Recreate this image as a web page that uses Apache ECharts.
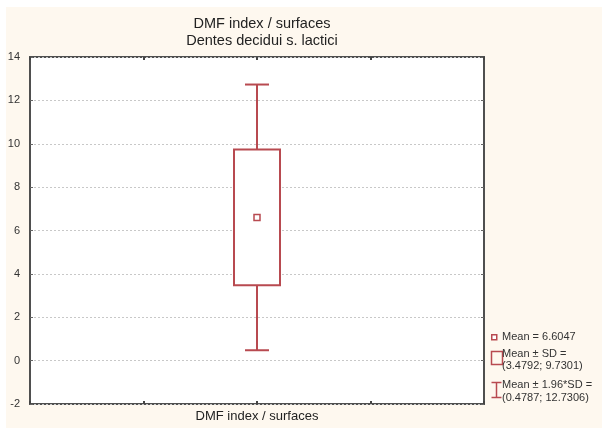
<!DOCTYPE html>
<html>
<head>
<meta charset="utf-8">
<script src="https://cdn.jsdelivr.net/npm/echarts@6/dist/echarts.min.js"></script>
<style>
  html, body { margin: 0; padding: 0; background: #ffffff; }
  #wrap { position: relative; width: 602px; height: 428px; }
  #paper { position: absolute; left: 6px; top: 7px; width: 596px; height: 421px; background: #fef8ef; }
  #chart { position: absolute; left: 0; top: 0; width: 602px; height: 428px; }
</style>
</head>
<body>
<div id="wrap">
  <div id="paper"></div>
  <div id="chart"></div>
</div>
<script>
// data
var categories = ['DMF index / surfaces']
var categoryPos = [2]
var meanValues = [6.6047]
var sdLow = [3.4792]
var sdHigh = [9.7301]
var ciLow = [0.4787]
var ciHigh = [12.7306]
var yMin = -2
var yMax = 14
var yStep = 2

var boxColor = '#b84a50'
var textColor = '#333333'

var seriesData = []
for (var i = 0; i < categories.length; i++) {
  seriesData.push([categoryPos[i], ciLow[i], sdLow[i], meanValues[i], sdHigh[i], ciHigh[i]])
}

function renderBox (params, api) {
  var x = api.value(0)
  var lo = api.coord([x, api.value(1)])
  var q1 = api.coord([x, api.value(2)])
  var mean = api.coord([x, api.value(3)])
  var q3 = api.coord([x, api.value(4)])
  var hi = api.coord([x, api.value(5)])
  var boxW = 46
  var capW = 24
  var sq = 6
  var st = { stroke: boxColor, lineWidth: 2, fill: null }
  return {
    type: 'group',
    children: [
      { type: 'line', shape: { x1: hi[0], y1: hi[1], x2: q3[0], y2: q3[1] }, style: st },
      { type: 'line', shape: { x1: q1[0], y1: q1[1], x2: lo[0], y2: lo[1] }, style: st },
      { type: 'line', shape: { x1: hi[0] - capW / 2, y1: hi[1], x2: hi[0] + capW / 2, y2: hi[1] }, style: st },
      { type: 'line', shape: { x1: lo[0] - capW / 2, y1: lo[1], x2: lo[0] + capW / 2, y2: lo[1] }, style: st },
      { type: 'rect', shape: { x: q3[0] - boxW / 2, y: q3[1], width: boxW, height: q1[1] - q3[1] }, style: { stroke: boxColor, lineWidth: 2, fill: '#ffffff' } },
      { type: 'rect', shape: { x: mean[0] - sq / 2, y: mean[1] - sq / 2, width: sq, height: sq }, style: { stroke: boxColor, lineWidth: 1.5, fill: '#ffffff' } }
    ]
  }
}

var legendFont = '11px "Liberation Sans", Arial, sans-serif'
function legendText (x, y, text) {
  return { type: 'text', left: x, top: y, style: { text: text, font: legendFont, fill: textColor } }
}

var chart = echarts.init(document.getElementById('chart'), null, { renderer: 'canvas' })
var options = {
  backgroundColor: 'transparent',
  animation: false,
  title: {
    text: 'DMF index / surfaces\nDentes decidui s. lactici',
    left: 257,
    textAlign: 'center',
    top: 10,
    textStyle: {
      color: '#222222',
      fontSize: 14.5,
      fontWeight: 'normal',
      fontFamily: '"Liberation Sans", Arial, sans-serif',
      lineHeight: 17
    }
  },
  grid: {
    left: 30,
    right: 118,
    top: 57,
    bottom: 24,
    outerBoundsMode: 'none',
    containLabel: false,
    show: true,
    backgroundColor: '#ffffff',
    borderColor: '#4f4f4f',
    borderWidth: 2
  },
  xAxis: [{
    type: 'value',
    min: 0,
    max: 4,
    interval: 1,
    position: 'bottom',
    name: categories[0],
    nameLocation: 'middle',
    nameGap: 6,
    nameTextStyle: { color: '#222222', fontSize: 13, fontFamily: '"Liberation Sans", Arial, sans-serif' },
    axisLine: { show: false, onZero: false },
    axisTick: { show: true, inside: true, length: 3, lineStyle: { color: '#444444', width: 2 } },
    axisLabel: { show: false },
    splitLine: { show: false }
  }, {
    type: 'value',
    min: 0,
    max: 4,
    interval: 1,
    position: 'top',
    axisLine: { show: false, onZero: false },
    axisTick: { show: true, inside: true, length: 3, lineStyle: { color: '#444444', width: 2 } },
    axisLabel: { show: false },
    splitLine: { show: false }
  }],
  yAxis: [{
    type: 'value',
    min: yMin,
    max: yMax,
    interval: yStep,
    axisLine: { show: false, onZero: false },
    axisTick: { show: true, inside: true, length: 3, lineStyle: { color: '#666666' } },
    axisLabel: {
      color: textColor,
      fontSize: 11,
      fontFamily: '"Liberation Sans", Arial, sans-serif',
      margin: 10
    },
    splitLine: {
      show: true,
      lineStyle: { color: '#c8c8c8', type: [2, 2], width: 1 }
    }
  }, {
    type: 'value',
    min: yMin,
    max: yMax,
    interval: yStep,
    position: 'right',
    axisLine: { show: false, onZero: false },
    axisTick: { show: true, inside: true, length: 3, lineStyle: { color: '#666666' } },
    axisLabel: { show: false },
    splitLine: { show: false }
  }],
  series: [{
    name: 'Mean ± SD',
    type: 'custom',
    xAxisIndex: 0,
    yAxisIndex: 0,
    renderItem: renderBox,
    encode: { x: 0, y: [1, 2, 3, 4, 5] },
    data: seriesData,
    z: 5
  }],
  graphic: [
    { type: 'rect', left: 491, top: 334, shape: { width: 5, height: 5 }, style: { stroke: boxColor, lineWidth: 1.5, fill: '#ffffff' } },
    legendText(502, 331, 'Mean = ' + meanValues[0]),
    { type: 'rect', left: 489, top: 349, shape: { width: 11, height: 13 }, style: { stroke: boxColor, lineWidth: 1.5, fill: 'none' } },
    legendText(502, 348, 'Mean ± SD ='),
    legendText(502, 360, '(' + sdLow[0] + '; ' + sdHigh[0] + ')'),
    {
      type: 'group',
      left: 489,
      top: 380,
      children: [
        { type: 'line', shape: { x1: 0, y1: 0, x2: 10, y2: 0 }, style: { stroke: boxColor, lineWidth: 1.5 } },
        { type: 'line', shape: { x1: 5, y1: 0, x2: 5, y2: 15 }, style: { stroke: boxColor, lineWidth: 1.5 } },
        { type: 'line', shape: { x1: 0, y1: 15, x2: 10, y2: 15 }, style: { stroke: boxColor, lineWidth: 1.5 } }
      ]
    },
    legendText(502, 379, 'Mean ± 1.96*SD ='),
    legendText(502, 392, '(' + ciLow[0] + '; ' + ciHigh[0] + ')')
  ]
}
chart.setOption(options)
</script>
</body>
</html>
